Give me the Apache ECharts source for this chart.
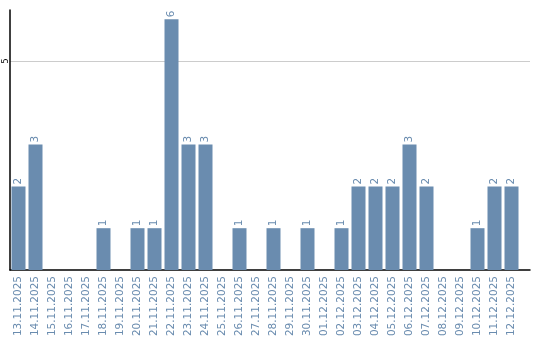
<!DOCTYPE html>
<html><head><meta charset="utf-8">
<script src="https://cdn.jsdelivr.net/npm/echarts@6/dist/echarts.min.js"></script>
<style>html,body{margin:0;padding:0;background:#fff}#c{width:540px;height:340px}</style>
</head><body><div id="c"></div>
<script>
const categories = ["13.11.2025","14.11.2025","15.11.2025","16.11.2025","17.11.2025","18.11.2025","19.11.2025","20.11.2025","21.11.2025","22.11.2025","23.11.2025","24.11.2025","25.11.2025","26.11.2025","27.11.2025","28.11.2025","29.11.2025","30.11.2025","01.12.2025","02.12.2025","03.12.2025","04.12.2025","05.12.2025","06.12.2025","07.12.2025","08.12.2025","09.12.2025","10.12.2025","11.12.2025","12.12.2025"];
const values = [2,3,0,0,0,1,0,1,1,6,3,3,0,1,0,1,0,1,0,1,2,2,2,3,2,0,0,1,2,2];
const yTicks = [5];
const yMax = 6.22;

const chart = echarts.init(document.getElementById('c'));
chart.setOption({
  animation: false,
  grid: [
    {left: 10, top: 10, width: 510, bottom: 70},
    {left: 10, top: 10, right: 10, bottom: 70}
  ],
  xAxis: [
    {type: 'category', data: categories, gridIndex: 0,
     axisLine: {show: false}, axisTick: {show: false},
     axisLabel: {rotate: 90, interval: 0, color: '#6a8caf', fontFamily: 'DejaVu Sans', fontSize: 10.5, margin: 6}},
    {type: 'value', gridIndex: 1, min: 0, max: 1,
     axisLine: {show: true, lineStyle: {color: '#000', width: 1.5}},
     axisTick: {show: false}, axisLabel: {show: false}, splitLine: {show: false}}
  ],
  yAxis: [
    {type: 'value', gridIndex: 0, min: 0, max: yMax, interval: 5,
     axisLine: {show: true, lineStyle: {color: '#000', width: 1.5}},
     axisTick: {show: false},
     axisLabel: {rotate: 90, color: '#000', fontFamily: 'DejaVu Sans', fontSize: 8, margin: 0,
       formatter: v => yTicks.includes(v) ? String(v) : ''},
     splitLine: {show: false}},
    {type: 'value', gridIndex: 1, min: 0, max: yMax, show: false}
  ],
  series: [{
    type: 'bar', data: values, xAxisIndex: 0, yAxisIndex: 0,
    barWidth: 14, z: 2,
    itemStyle: {color: '#6a8caf'},
    label: {show: true, position: 'top', rotate: 90, align: 'left', verticalAlign: 'middle', distance: 2,
      color: '#6a8caf', fontFamily: 'DejaVu Sans', fontSize: 10.5,
      formatter: p => p.value > 0 ? String(p.value) : ''}
  }, {
    type: 'line', data: [], xAxisIndex: 1, yAxisIndex: 1, z: 0,
    markLine: {silent: true, symbol: 'none', z: 0,
      lineStyle: {color: '#cccccc', type: 'solid', width: 1},
      label: {show: false},
      data: yTicks.map(v => ({yAxis: v}))}
  }]
});
</script></body></html>
